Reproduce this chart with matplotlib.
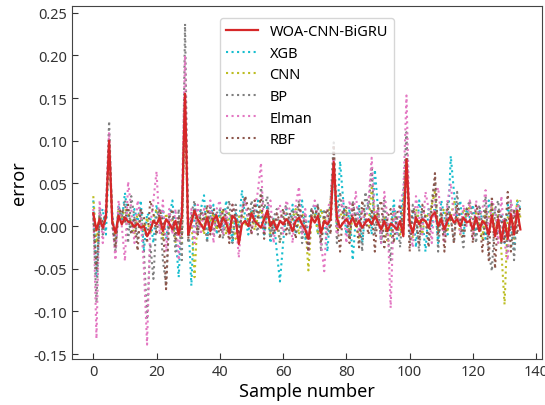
import matplotlib
matplotlib.use("Agg")
import matplotlib.pyplot as plt
import numpy as np

plt.rcParams['font.family'] = ['Noto Sans', 'DejaVu Sans']

labels = ["WOA-CNN-BiGRU", "XGB", "CNN", "BP", "Elman", "RBF"]

woa = [0.015, -0.005, 0.008, -0.002, 0.01, 0.100, 0.005, -0.008, 0.012, 0.002,
       0.010, 0.005, 0.004, -0.001, 0.003, -0.002, 0.000, -0.012, -0.005, 0.006,
       0.002, 0.010, -0.006, 0.008, 0.003, -0.004, 0.006, -0.010, 0.012, 0.155,
       -0.010, 0.004, 0.018, 0.008, 0.002, -0.004, 0.010, -0.006, 0.008, 0.012,
       -0.002, 0.010, 0.004, -0.008, 0.012, 0.008, -0.021, 0.002, 0.006, 0.000,
       0.015, 0.006, 0.002, -0.002, 0.008, 0.018, 0.000, 0.006, -0.004, 0.006,
       0.002, 0.008, 0.004, -0.006, 0.006, 0.010, 0.002, -0.004, -0.015, 0.010,
       0.004, 0.012, -0.008, 0.006, 0.002, 0.008, 0.075, 0.010, -0.002, 0.004,
       0.008, 0.002, 0.010, 0.000, 0.006, -0.002, 0.004, 0.008, 0.002, 0.012,
       0.004, -0.004, 0.006, -0.006, 0.003, 0.000, -0.004, 0.006, -0.012, 0.078,
       0.004, -0.008, 0.010, 0.002, 0.008, 0.006, -0.002, 0.012, 0.016, 0.000,
       0.008, -0.004, 0.006, 0.012, 0.004, 0.008, 0.000, 0.010, 0.004, 0.006,
       -0.004, 0.010, -0.006, 0.006, 0.002, -0.010, 0.012, -0.012, 0.008, -0.018,
       0.006, -0.015, 0.014, -0.010, 0.018, -0.004]

xgb = [0.030, -0.060, 0.010, 0.020, -0.010, 0.090, 0.015, -0.020, 0.025, 0.005,
       0.039, 0.010, -0.010, 0.020, 0.005, 0.030, -0.030, 0.015, 0.010, -0.020,
       0.025, 0.000, 0.020, -0.015, 0.010, 0.030, -0.010, -0.060, 0.020, 0.140,
       0.010, -0.070, 0.025, 0.005, 0.020, 0.036, -0.015, 0.010, 0.025, -0.010,
       0.020, -0.005, 0.030, 0.010, -0.020, 0.015, 0.000, 0.042, 0.010, -0.010,
       0.020, 0.005, 0.030, 0.010, -0.010, 0.025, -0.020, 0.010, -0.030, -0.065,
       -0.020, 0.020, 0.000, 0.025, -0.010, 0.010, 0.030, -0.015, 0.005, 0.020,
       0.025, -0.010, 0.020, 0.010, -0.030, 0.020, 0.060, 0.000, 0.076, 0.030,
       -0.010, 0.020, -0.040, 0.010, 0.025, -0.020, 0.015, 0.030, -0.010, 0.066,
       0.020, -0.020, 0.010, 0.005, -0.010, 0.030, -0.015, 0.010, 0.040, 0.070,
       -0.010, 0.020, -0.025, 0.030, 0.010, -0.030, 0.020, 0.000, 0.025, -0.020,
       0.030, 0.010, -0.010, 0.082, 0.040, 0.010, 0.030, -0.010, 0.020, 0.010,
       0.025, -0.010, 0.020, 0.005, -0.015, 0.030, 0.010, 0.020, -0.010, 0.015,
       -0.020, 0.025, 0.000, -0.030, 0.030, 0.020]

cnn = [0.035, -0.020, 0.015, 0.000, 0.010, 0.095, 0.010, -0.015, 0.020, 0.010,
       0.020, 0.015, 0.005, -0.010, 0.015, 0.010, -0.005, 0.010, -0.010, 0.010,
       0.020, 0.005, -0.015, 0.015, 0.000, 0.010, -0.020, 0.005, -0.020, 0.150,
       0.000, 0.010, -0.060, 0.015, 0.010, -0.010, 0.020, 0.005, 0.015, -0.005,
       0.010, 0.020, -0.010, 0.015, 0.005, -0.015, 0.010, 0.020, 0.000, 0.010,
       0.018, -0.005, 0.010, 0.020, 0.005, 0.015, -0.010, 0.010, 0.005, -0.020,
       0.010, 0.015, -0.005, 0.010, 0.020, -0.010, 0.015, 0.005, -0.052, 0.010,
       0.015, -0.010, 0.020, 0.005, 0.010, 0.030, 0.070, -0.005, 0.015, 0.010,
       0.020, -0.010, 0.010, 0.005, -0.015, 0.020, 0.010, 0.000, 0.045, 0.010,
       0.015, -0.005, 0.010, -0.020, -0.010, 0.015, 0.005, -0.010, 0.020, 0.075,
       0.010, -0.015, 0.020, 0.005, -0.010, 0.015, 0.010, 0.025, 0.040, -0.005,
       0.015, 0.020, -0.005, 0.010, 0.030, 0.015, -0.010, 0.020, 0.010, 0.025,
       -0.010, 0.015, 0.005, -0.015, 0.020, 0.010, 0.025, -0.010, 0.015, -0.030,
       -0.092, 0.010, 0.020, -0.015, 0.030, 0.010]

bp = [0.010, -0.090, 0.020, -0.010, 0.015, 0.123, 0.000, -0.030, 0.020, 0.010,
      0.030, -0.020, 0.035, 0.010, -0.015, 0.020, -0.030, -0.110, -0.020, -0.062,
      0.010, 0.020, -0.040, -0.070, 0.015, 0.010, -0.030, 0.020, -0.040, 0.237,
      -0.020, 0.015, 0.030, -0.010, 0.020, 0.010, -0.020, 0.025, -0.010, 0.015,
      0.020, -0.015, 0.010, 0.030, -0.020, 0.025, -0.010, 0.015, 0.035, 0.000,
      0.030, 0.010, -0.010, 0.045, 0.020, 0.035, -0.015, 0.010, 0.020, -0.020,
      0.015, 0.025, -0.010, 0.020, 0.010, 0.030, -0.020, 0.015, -0.030, 0.020,
      0.010, 0.025, -0.030, 0.020, -0.010, 0.030, 0.098, -0.020, 0.040, 0.010,
      0.025, -0.015, 0.030, 0.005, 0.020, -0.030, 0.040, 0.020, 0.070, -0.010,
      0.025, -0.020, 0.030, -0.010, -0.040, 0.020, 0.010, -0.025, 0.030, 0.110,
      -0.020, 0.025, 0.010, -0.030, 0.020, 0.010, -0.015, 0.030, 0.055, -0.030,
      0.020, -0.010, 0.030, 0.010, -0.020, 0.040, 0.000, -0.025, 0.020, 0.030,
      0.010, -0.020, 0.025, 0.000, 0.035, -0.030, -0.053, 0.020, 0.030, -0.020,
      0.010, -0.030, 0.030, -0.040, 0.020, 0.030]

elman = [0.020, -0.132, 0.030, -0.020, 0.025, 0.110, 0.010, -0.040, 0.030, 0.000,
         -0.041, 0.052, 0.020, -0.020, 0.030, 0.010, -0.050, -0.139, 0.000, 0.030,
         0.064, -0.010, 0.030, -0.030, 0.020, -0.010, 0.020, -0.040, 0.030, 0.200,
         -0.010, 0.020, -0.020, 0.025, -0.010, 0.020, 0.000, 0.030, -0.020, 0.020,
         0.030, -0.010, 0.020, -0.015, 0.025, 0.010, -0.037, 0.020, 0.030, 0.010,
         -0.010, 0.020, 0.040, 0.074, -0.010, 0.020, 0.030, -0.020, 0.015, 0.025,
         -0.010, 0.030, 0.020, -0.020, 0.025, 0.046, -0.010, 0.020, -0.030, 0.010,
         0.030, 0.010, -0.020, -0.053, 0.020, 0.030, 0.080, -0.010, 0.020, 0.030,
         -0.020, 0.030, 0.010, 0.040, -0.010, 0.020, 0.000, 0.030, 0.080, 0.010,
         0.020, -0.020, 0.040, 0.010, -0.096, 0.020, -0.010, 0.030, 0.040, 0.153,
         0.000, -0.025, 0.035, 0.010, -0.010, 0.040, 0.020, -0.020, 0.030, 0.045,
         0.010, -0.020, 0.030, 0.050, 0.010, 0.020, -0.010, 0.025, 0.000, 0.030,
         -0.015, 0.030, 0.010, 0.020, 0.042, -0.010, 0.030, 0.020, -0.020, 0.035,
         -0.020, -0.040, 0.030, 0.010, 0.025, 0.020]

rbf = [0.015, -0.050, 0.010, 0.005, 0.015, 0.100, 0.005, -0.025, 0.015, 0.020,
       0.005, 0.025, -0.010, 0.010, -0.029, 0.020, 0.010, -0.020, 0.030, 0.015,
       -0.010, 0.020, 0.005, -0.074, 0.010, 0.020, -0.015, 0.010, -0.010, 0.155,
       -0.015, 0.010, 0.020, -0.010, 0.015, 0.005, 0.025, -0.010, 0.020, 0.010,
       -0.015, 0.020, 0.010, -0.020, 0.025, 0.010, -0.010, 0.015, 0.035, 0.020,
       -0.010, 0.030, 0.010, 0.036, -0.015, 0.020, 0.010, -0.010, 0.015, 0.005,
       0.020, -0.010, 0.015, 0.010, -0.015, 0.025, 0.010, 0.000, -0.030, 0.020,
       0.010, 0.025, -0.020, 0.010, 0.020, -0.010, 0.095, 0.010, -0.030, 0.020,
       0.015, -0.020, 0.025, 0.010, -0.025, 0.030, 0.010, -0.010, 0.020, -0.030,
       0.020, 0.030, -0.025, 0.010, 0.020, -0.020, 0.015, 0.025, -0.010, 0.080,
       -0.030, 0.020, 0.010, -0.020, 0.025, 0.010, -0.025, 0.020, 0.062, -0.010,
       0.015, -0.030, 0.020, 0.010, -0.020, 0.025, 0.010, -0.015, 0.020, 0.010,
       -0.020, 0.025, 0.010, -0.030, 0.020, -0.040, 0.035, -0.050, 0.020, 0.010,
       -0.020, 0.040, -0.030, 0.020, -0.010, 0.025]

series = [woa, xgb, cnn, bp, elman, rbf]
colors = ["#d62728", "#17becf", "#bcbd22", "#7f7f7f", "#e377c2", "#8c564b"]

fig = plt.figure(figsize=(5.45, 4.06), dpi=100)
ax = fig.add_axes([0.132, 0.113, 0.862, 0.870])

x = np.arange(len(woa))
for i, (s, c, lab) in enumerate(zip(series, colors, labels)):
    if i == 0:
        ax.plot(x, s, color=c, lw=1.6, ls='-', label=lab, zorder=3)
    else:
        ax.plot(x, s, color=c, lw=1.5, ls=':', label=lab, zorder=2)

ax.set_xlim(-6.75, 141.75)
ax.set_ylim(-0.156, 0.258)
ax.set_xticks([0, 20, 40, 60, 80, 100, 120, 140])
ax.set_yticks([-0.15, -0.10, -0.05, 0.00, 0.05, 0.10, 0.15, 0.20, 0.25])
ax.yaxis.set_major_formatter(matplotlib.ticker.FormatStrFormatter('%.2f'))
ax.tick_params(direction='in', length=4, labelsize=10.5, colors='#333333')
for sp in ax.spines.values():
    sp.set_color('#444444')
ax.set_xlabel("Sample number", fontsize=13, labelpad=2)
ax.set_ylabel("error", fontsize=13)
ax.legend(loc='upper center', fontsize=10.5, frameon=True, edgecolor='#cccccc',
          handlelength=2.2, labelspacing=0.45, bbox_to_anchor=(0.5, 0.985))

fig.savefig("out.png", dpi=100)
